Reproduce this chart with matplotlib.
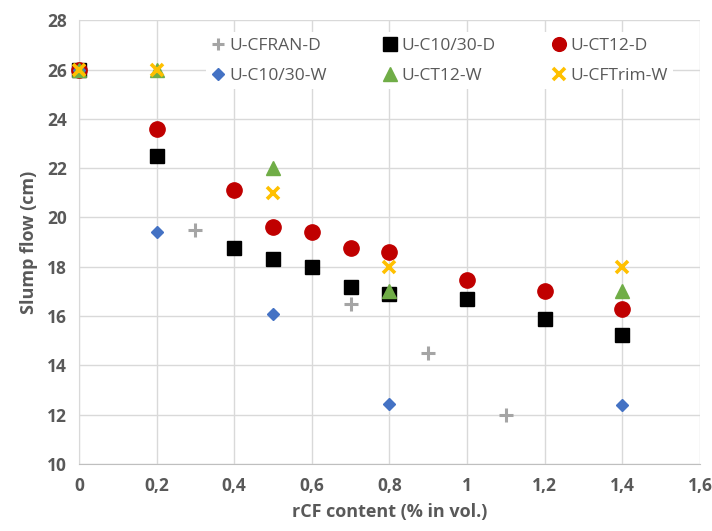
import matplotlib
matplotlib.use("Agg")
import matplotlib.pyplot as plt
from matplotlib.ticker import FuncFormatter, MultipleLocator

plt.rcParams['font.family'] = ['Open Sans', 'DejaVu Sans']

# Slump flow measurements (cm) against recycled carbon fibre content (% in vol.)
cfran_d_x = [0, 0.3, 0.7, 0.9, 1.1]
cfran_d_y = [26, 19.5, 16.5, 14.5, 12.0]

c1030_d_x = [0, 0.2, 0.4, 0.5, 0.6, 0.7, 0.8, 1.0, 1.2, 1.4]
c1030_d_y = [26, 22.5, 18.75, 18.3, 18.0, 17.2, 16.9, 16.7, 15.9, 15.25]

ct12_d_x = [0, 0.2, 0.4, 0.5, 0.6, 0.7, 0.8, 1.0, 1.2, 1.4]
ct12_d_y = [26, 23.6, 21.1, 19.6, 19.4, 18.75, 18.6, 17.45, 17.0, 16.3]

c1030_w_x = [0, 0.2, 0.5, 0.8, 1.4]
c1030_w_y = [26, 19.4, 16.1, 12.45, 12.4]

ct12_w_x = [0, 0.2, 0.5, 0.8, 1.4]
ct12_w_y = [26, 26, 22.0, 17.0, 17.0]

cftrim_w_x = [0, 0.2, 0.5, 0.8, 1.4]
cftrim_w_y = [26, 26, 21.0, 18.0, 18.0]

fig = plt.figure(figsize=(7.12, 5.31), dpi=100)
ax = fig.add_axes([0.111, 0.126, 0.872, 0.836])

common = dict(ls='none', clip_on=False, zorder=3)
h_cfran = ax.plot(cfran_d_x, cfran_d_y, marker='+', ms=10, mew=2.2,
                  color='#A5A5A5', label='U-CFRAN-D', **common)[0]
h_c1030d = ax.plot(c1030_d_x, c1030_d_y, marker='s', ms=10.5,
                   color='black', label='U-C10/30-D', **common)[0]
h_ct12d = ax.plot(ct12_d_x, ct12_d_y, marker='o', ms=11,
                  color='#C00000', label='U-CT12-D', **common)[0]
h_c1030w = ax.plot(c1030_w_x, c1030_w_y, marker='D', ms=6.5,
                   color='#4472C4', label='U-C10/30-W', **common)[0]
h_ct12w = ax.plot(ct12_w_x, ct12_w_y, marker='^', ms=10.5,
                  color='#70AD47', label='U-CT12-W', **common)[0]
h_cftrim = ax.plot(cftrim_w_x, cftrim_w_y, marker='x', ms=9, mew=2.6,
                   color='#FFC000', label='U-CFTrim-W', **common)[0]

ax.set_xlim(0, 1.6)
ax.set_ylim(10, 28)
ax.xaxis.set_major_locator(MultipleLocator(0.2))
ax.yaxis.set_major_locator(MultipleLocator(2))


def comma(v, pos):
    s = f"{v:.1f}".rstrip('0').rstrip('.')
    return s.replace('.', ',')


ax.xaxis.set_major_formatter(FuncFormatter(comma))
ax.yaxis.set_major_formatter(FuncFormatter(lambda v, p: f"{v:.0f}"))

ax.grid(True, color='#D9D9D9', lw=1.0, zorder=0)
ax.set_axisbelow(True)
for side in ['top', 'right']:
    ax.spines[side].set_visible(False)
ax.spines['left'].set_color('#D9D9D9')
ax.spines['bottom'].set_color('#BFBFBF')
ax.tick_params(length=0, pad=9, labelsize=12.5, labelcolor='#595959')
for lab in ax.get_xticklabels() + ax.get_yticklabels():
    lab.set_fontweight('bold')

ax.set_xlabel('rCF content (% in vol.)', fontsize=13, fontweight='bold',
              color='#595959', labelpad=6)
ax.set_ylabel('Slump flow (cm)', fontsize=13, fontweight='bold',
              color='#595959', labelpad=6)

handles = [h_cfran, h_c1030w, h_c1030d, h_ct12w, h_ct12d, h_cftrim]
leg = ax.legend(handles=handles, ncol=3, loc='upper left',
                bbox_to_anchor=(0.19, 0.992), frameon=True, fancybox=False,
                edgecolor='none', facecolor='white', framealpha=1,
                fontsize=12.5, handlelength=0.8, handletextpad=0.25,
                columnspacing=3.25, labelspacing=0.8, borderpad=0.3,
                markerscale=0.9)
leg.set_zorder(5)
for t in leg.get_texts():
    t.set_color('#595959')

fig.savefig('out.png', dpi=100)
